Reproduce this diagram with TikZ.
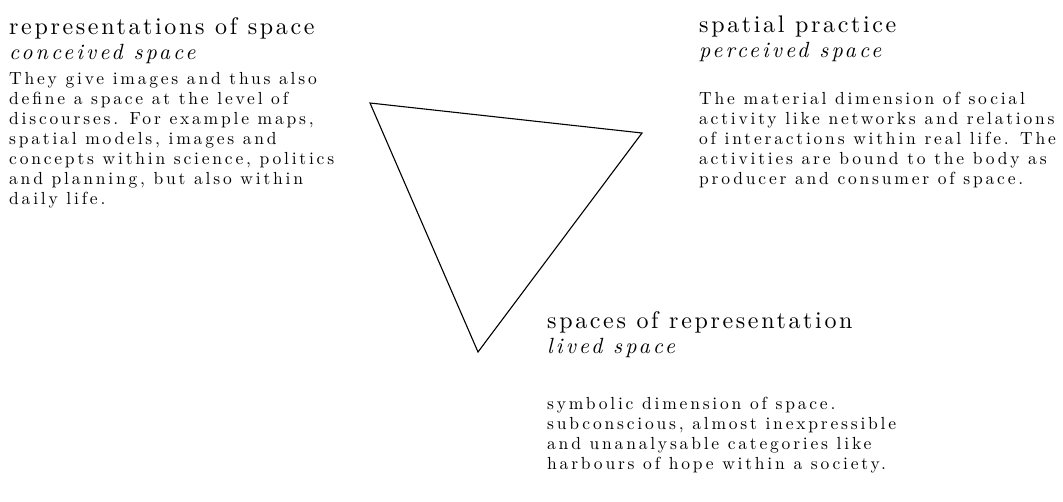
\documentclass[tikz,border=0pt]{standalone}
\usepackage{fontspec}
\setmainfont[Extension=.otf,UprightFont=lmroman10-regular,ItalicFont=lmroman10-italic,BoldFont=lmroman10-bold]{lmroman10}
\tikzset{
  head/.style={anchor=base west, inner sep=0pt, font=\fontsize{24}{28}\selectfont\addfontfeatures{LetterSpace=11}},
  sub/.style={anchor=base west, inner sep=0pt, font=\fontsize{22}{26}\selectfont\itshape\addfontfeatures{LetterSpace=14}},
  body/.style={anchor=north west, inner sep=0pt, align=left, font=\fontsize{17.5}{20}\selectfont\addfontfeatures{LetterSpace=16}},
  edge/.style={draw=black, line width=1.1pt, line join=miter}
}
\begin{document}
\begin{tikzpicture}[x=1pt,y=-1pt]
\useasboundingbox (0,0) rectangle (1063,501);
% left block
\node[head] (lh) at (9,34) {representations of space};
\node[sub] (ls) at (9,59) {conceived space};
\node[body] (lb) at (9,72) {They give images and thus also\\define a space at the level of\\discourses. For example maps,\\spatial models, images and\\concepts within science, politics\\and planning, but also within\\daily life.};
% right block
\node[head] (rh) at (699,32) {spatial practice};
\node[sub] (rs) at (699,57) {perceived space};
\node[body] (rb) at (699,92) {The material dimension of social\\activity like networks and relations\\of interactions within real life. The\\activities are bound to the body as\\producer and consumer of space.};
% bottom block
\node[head] (bh) at (547,328) {spaces of representation};
\node[sub] (bs) at (547,353) {lived space};
\node[body] (bb) at (547,397) {symbolic dimension of space.\\subconscious, almost inexpressible\\and unanalysable categories like\\harbours of hope within a society.};
% triangle
\coordinate (tl) at (370,103);
\coordinate (tr) at (642,133);
\coordinate (tb) at (478,352);
\draw[edge] (tl) -- (tr) -- (tb) -- cycle;
\end{tikzpicture}
\end{document}
